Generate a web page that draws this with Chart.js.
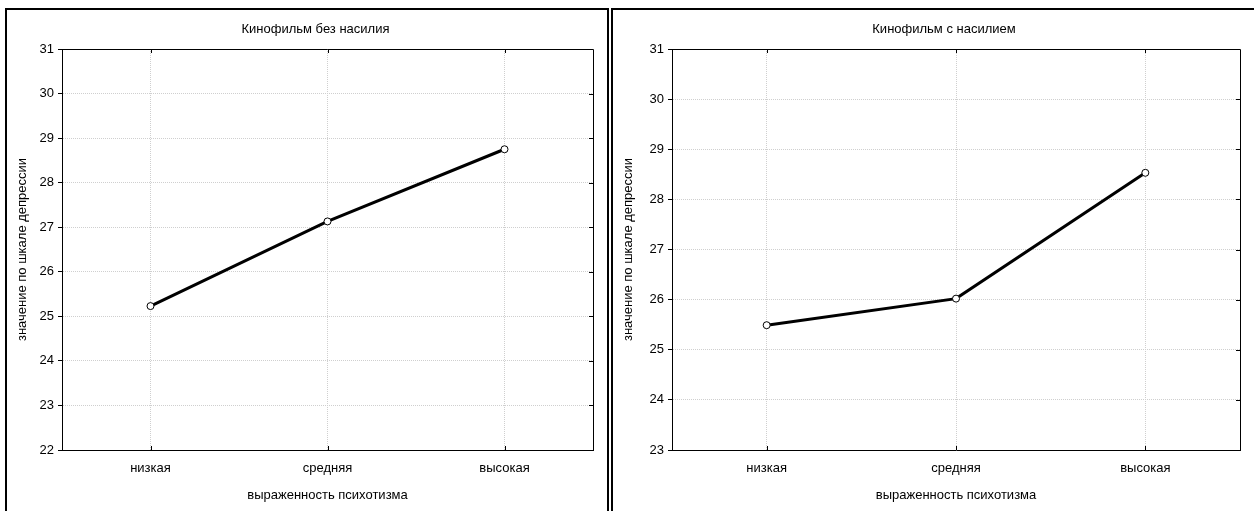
<!DOCTYPE html>
<html>
<head>
<meta charset="utf-8">
<script src="https://cdn.jsdelivr.net/npm/chart.js@4.4.0/dist/chart.umd.min.js"></script>
<style>
  html, body { margin: 0; padding: 0; background: #fff; overflow: hidden; }
  .panel { position: absolute; top: 8px; height: 520px; border: 2px solid #000; border-bottom: none; overflow: hidden; }
  #leftPanel { left: 5px; width: 600px; }
  #rightPanel { left: 611px; width: 660px; }
  canvas { position: absolute; left: 0; top: 0; }
</style>
</head>
<body>
<div class="panel" id="leftPanel"><canvas id="chartLeft" width="600" height="501"></canvas></div>
<div class="panel" id="rightPanel"><canvas id="chartRight" width="641" height="501"></canvas></div>
<script>
const categories = ['низкая', 'средняя', 'высокая'];
const noViolence = [25.23, 27.13, 28.75];
const withViolence = [25.49, 26.02, 28.53];
const titleLeft = 'Кинофильм без насилия';
const titleRight = 'Кинофильм с насилием';
const xTitle = 'выраженность психотизма';
const yTitle = 'значение по шкале депрессии';

const FONT = '"Liberation Sans", Arial, sans-serif';
const SIZE = 13;

// title above the plot and the small inward ticks on the frame
const panelDecor = {
  id: 'panelDecor',
  afterDraw(chart, args, opts) {
    const { ctx, chartArea: a, scales } = chart;
    ctx.save();
    ctx.strokeStyle = '#000';
    ctx.lineWidth = 1;
    ctx.beginPath();
    ctx.moveTo(a.left, a.top + 0.5);
    ctx.lineTo(a.right + 0.5, a.top + 0.5);
    ctx.lineTo(a.right + 0.5, a.bottom);
    ctx.stroke();
    ctx.beginPath();
    scales.x.ticks.forEach((t, i) => {
      const x = Math.round(scales.x.getPixelForTick(i)) + 0.5;
      ctx.moveTo(x, a.bottom); ctx.lineTo(x, a.bottom - 4);
      ctx.moveTo(x, a.top); ctx.lineTo(x, a.top + 4);
    });
    scales.y.ticks.forEach((t, i) => {
      const y = Math.round(scales.y.getPixelForTick(i)) + 0.5;
      ctx.moveTo(a.right, y); ctx.lineTo(a.right - 4, y);
    });
    ctx.stroke();
    ctx.font = SIZE + 'px ' + FONT;
    ctx.fillStyle = '#000';
    ctx.textAlign = 'center';
    ctx.textBaseline = 'middle';
    ctx.fillText(opts.text, (a.left + a.right) / 2 + opts.dx, opts.y);
    ctx.restore();
  }
};

function makeChart(id, values, title, yMin, yWidth) {
  return new Chart(document.getElementById(id), {
    type: 'line',
    data: {
      labels: categories,
      datasets: [{
        data: values,
        borderColor: '#000',
        borderWidth: 3,
        pointRadius: 3.5,
        pointBackgroundColor: '#fff',
        pointBorderColor: '#000',
        pointBorderWidth: 1,
        tension: 0
      }]
    },
    options: {
      responsive: false,
      animation: false,
      events: [],
      layout: { padding: { top: 39, right: 14, left: 0, bottom: 0 } },
      plugins: {
        legend: { display: false },
        tooltip: { enabled: false },
        panelDecor: { text: title, dx: -12, y: 19 }
      },
      scales: {
        x: {
          offset: true,
          grid: { offset: false, color: '#cfcfcf', drawTicks: false },
          border: { color: '#000', width: 1, dash: [1, 1] },
          ticks: { color: '#000', padding: 11, font: { family: FONT, size: SIZE } },
          title: { display: true, text: xTitle, color: '#000', font: { family: FONT, size: SIZE }, padding: { top: 0, bottom: 8 } },
          afterFit(scale) { scale.height = 61; }
        },
        y: {
          min: yMin,
          max: 31,
          grid: { color: '#cfcfcf', drawTicks: true, tickLength: 4, tickColor: '#000', tickBorderDash: [] },
          border: { color: '#000', width: 1, dash: [1, 1] },
          ticks: { stepSize: 1, color: '#000', padding: 4, font: { family: FONT, size: SIZE } },
          title: { display: true, text: yTitle, color: '#000', font: { family: FONT, size: SIZE }, padding: { top: 8, bottom: 0 } },
          afterFit(scale) { scale.width = yWidth; }
        }
      }
    },
    plugins: [panelDecor]
  });
}

makeChart('chartLeft', noViolence, titleLeft, 22, 55);
makeChart('chartRight', withViolence, titleRight, 23, 59);
</script>
</body>
</html>
